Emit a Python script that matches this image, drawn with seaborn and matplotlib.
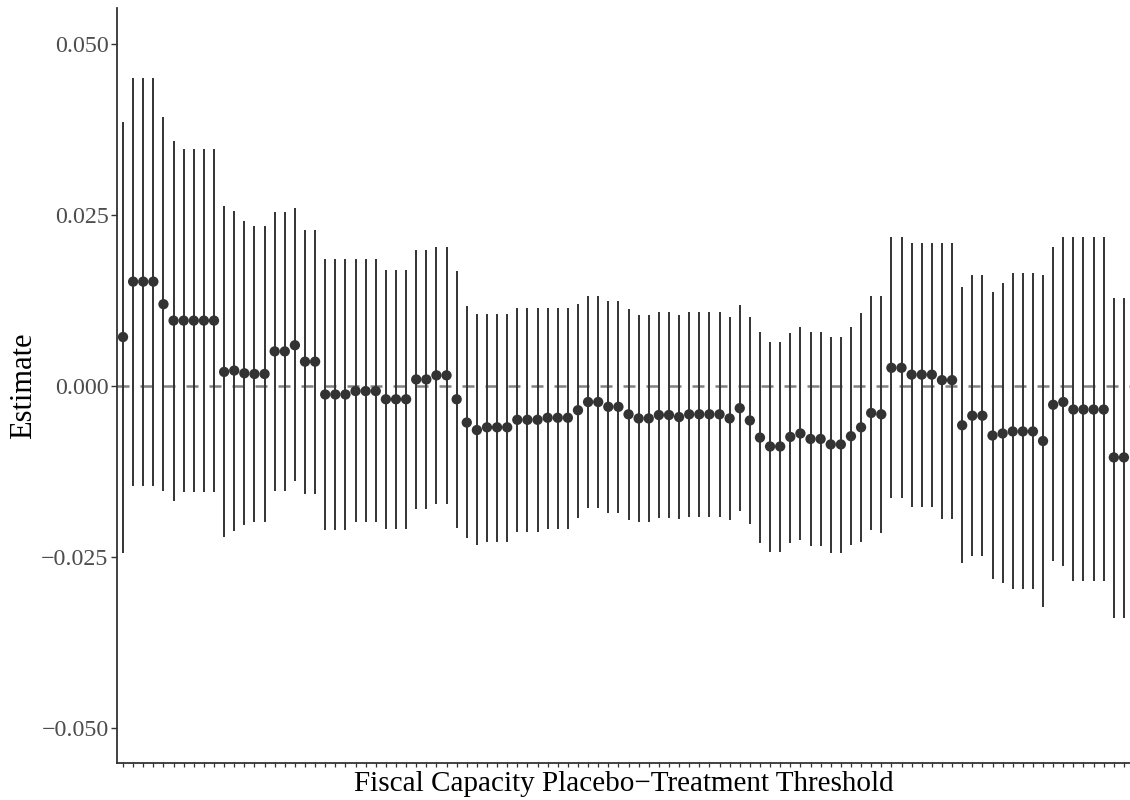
import numpy as np
import pandas as pd
import matplotlib
matplotlib.use("Agg")
import matplotlib.pyplot as plt
import seaborn as sns

estimate = [0.0071, 0.0152, 0.0152, 0.0152, 0.0119, 0.0095, 0.0095, 0.0095, 0.0095, 0.0095,
            0.0020, 0.0022, 0.0018, 0.0017, 0.0017, 0.0050, 0.0050, 0.0059, 0.0035, 0.0035,
            -0.0013, -0.0013, -0.0013, -0.0008, -0.0008, -0.0008, -0.0020, -0.0020, -0.0020, 0.0009,
            0.0009, 0.0015, 0.0015, -0.0020, -0.0054, -0.0065, -0.0061, -0.0061, -0.0061, -0.0050,
            -0.0050, -0.0050, -0.0047, -0.0047, -0.0047, -0.0036, -0.0024, -0.0024, -0.0031, -0.0031,
            -0.0042, -0.0048, -0.0048, -0.0043, -0.0043, -0.0046, -0.0042, -0.0042, -0.0042, -0.0042,
            -0.0048, -0.0033, -0.0051, -0.0076, -0.0089, -0.0089, -0.0075, -0.0070, -0.0078, -0.0078,
            -0.0086, -0.0086, -0.0074, -0.0061, -0.0040, -0.0042, 0.0026, 0.0026, 0.0016, 0.0016,
            0.0016, 0.0008, 0.0008, -0.0058, -0.0044, -0.0044, -0.0073, -0.0070, -0.0067, -0.0067,
            -0.0067, -0.0081, -0.0028, -0.0024, -0.0035, -0.0035, -0.0035, -0.0035, -0.0105, -0.0105]

upper = [0.0386, 0.0450, 0.0450, 0.0450, 0.0392, 0.0358, 0.0346, 0.0346, 0.0346, 0.0346,
         0.0262, 0.0255, 0.0241, 0.0234, 0.0234, 0.0254, 0.0254, 0.0259, 0.0227, 0.0227,
         0.0185, 0.0185, 0.0185, 0.0185, 0.0185, 0.0185, 0.0169, 0.0169, 0.0169, 0.0198,
         0.0198, 0.0203, 0.0203, 0.0167, 0.0116, 0.0104, 0.0105, 0.0105, 0.0105, 0.0113,
         0.0113, 0.0113, 0.0114, 0.0114, 0.0114, 0.0120, 0.0131, 0.0131, 0.0123, 0.0123,
         0.0112, 0.0103, 0.0103, 0.0107, 0.0107, 0.0103, 0.0107, 0.0107, 0.0107, 0.0107,
         0.0101, 0.0118, 0.0101, 0.0078, 0.0064, 0.0064, 0.0077, 0.0086, 0.0079, 0.0079,
         0.0071, 0.0071, 0.0085, 0.0106, 0.0131, 0.0131, 0.0217, 0.0217, 0.0208, 0.0208,
         0.0208, 0.0209, 0.0209, 0.0144, 0.0161, 0.0161, 0.0137, 0.0150, 0.0165, 0.0165,
         0.0165, 0.0162, 0.0202, 0.0217, 0.0217, 0.0217, 0.0217, 0.0217, 0.0128, 0.0128]

lower = [-0.0245, -0.0147, -0.0147, -0.0147, -0.0154, -0.0169, -0.0156, -0.0156, -0.0156, -0.0156,
         -0.0222, -0.0213, -0.0204, -0.0199, -0.0199, -0.0154, -0.0154, -0.0140, -0.0159, -0.0159,
         -0.0211, -0.0211, -0.0211, -0.0200, -0.0200, -0.0200, -0.0209, -0.0209, -0.0209, -0.0181,
         -0.0181, -0.0173, -0.0173, -0.0208, -0.0223, -0.0233, -0.0228, -0.0228, -0.0228, -0.0214,
         -0.0214, -0.0214, -0.0209, -0.0209, -0.0209, -0.0194, -0.0179, -0.0179, -0.0186, -0.0186,
         -0.0196, -0.0200, -0.0200, -0.0194, -0.0194, -0.0195, -0.0192, -0.0192, -0.0192, -0.0192,
         -0.0196, -0.0183, -0.0202, -0.0230, -0.0243, -0.0243, -0.0230, -0.0226, -0.0235, -0.0235,
         -0.0244, -0.0244, -0.0233, -0.0228, -0.0211, -0.0215, -0.0165, -0.0165, -0.0177, -0.0177,
         -0.0177, -0.0195, -0.0195, -0.0260, -0.0249, -0.0249, -0.0283, -0.0288, -0.0298, -0.0298,
         -0.0298, -0.0324, -0.0257, -0.0264, -0.0286, -0.0286, -0.0286, -0.0286, -0.0340, -0.0340]

yticks = [-0.050, -0.025, 0.000, 0.025, 0.050]
ytick_labels = ["\u22120.050", "\u22120.025", "0.000", "0.025", "0.050"]
xlabel = "Fiscal Capacity Placebo\u2212Treatment Threshold"
ylabel = "Estimate"

threshold = list(range(1, len(estimate) + 1))
df = pd.DataFrame({"threshold": threshold, "estimate": estimate,
                   "lower": lower, "upper": upper})

sns.set_theme(style="ticks")
plt.rcParams["font.family"] = ["Liberation Serif", "DejaVu Serif"]

fig = plt.figure(figsize=(11.3, 8.0), dpi=100)
ax = fig.add_axes([0.1035, 0.046, 0.8965, 0.944])

ax.axhline(0, color="#808080", linestyle=(0, (4.8, 4.4)), linewidth=1.8, zorder=1)
ax.vlines(df["threshold"], df["lower"], df["upper"], color="#333333",
          linewidth=1.4, zorder=2)
sns.scatterplot(data=df, x="threshold", y="estimate", ax=ax, color="#333333",
                s=55, edgecolor="none", linewidth=0, zorder=3, legend=False)

ax.set_xlim(0.4, 100.6)
ax.set_ylim(-0.0552, 0.0552)
ax.set_yticks(yticks)
ax.set_yticklabels(ytick_labels)
ax.set_xticks(threshold)
ax.set_xticklabels([])
ax.tick_params(axis="x", length=3, width=0.9, color="#333333")
ax.tick_params(axis="y", length=4, width=1.0, color="#333333",
               labelsize=17.3, labelcolor="#4d4d4d", pad=2)

for side in ["top", "right"]:
    ax.spines[side].set_visible(False)
for side in ["left", "bottom"]:
    ax.spines[side].set_color("#333333")
    ax.spines[side].set_linewidth(1.3)

ax.set_xlabel(xlabel, fontsize=21, color="black", labelpad=-1)
ax.set_ylabel(ylabel, fontsize=22, color="black", labelpad=2)

fig.savefig("out.png", dpi=100, facecolor="white")
